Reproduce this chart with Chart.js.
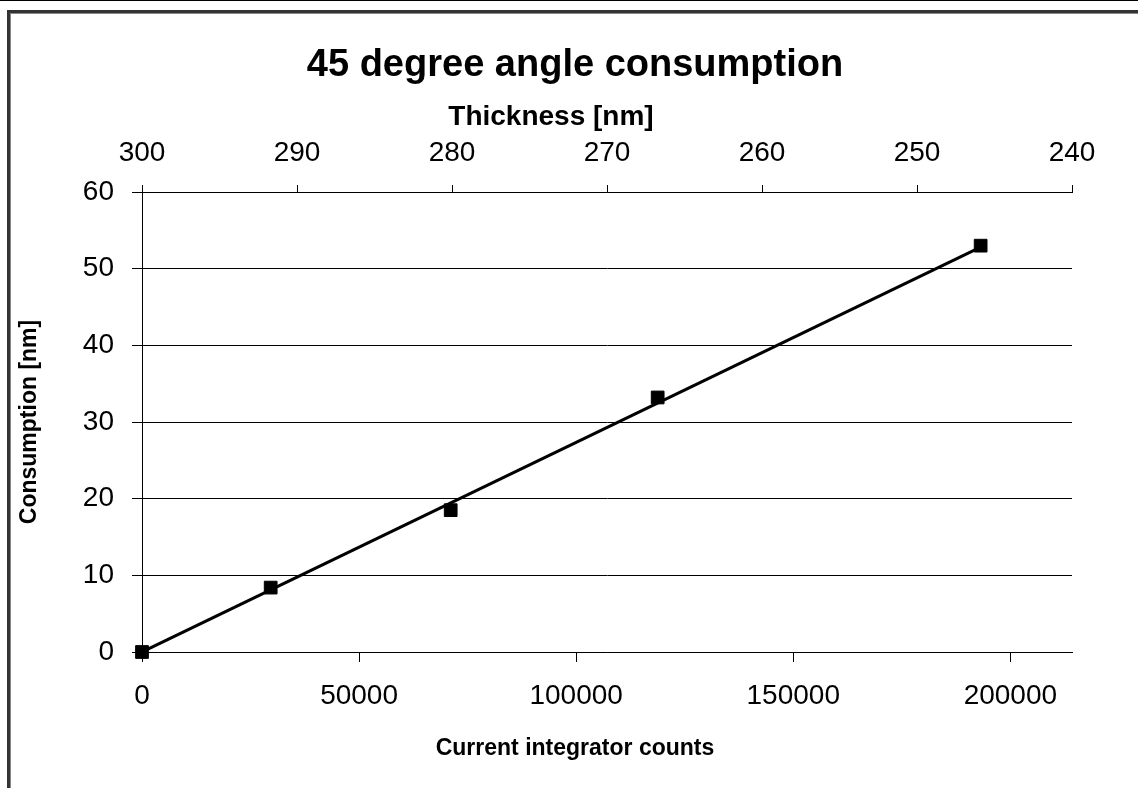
<!DOCTYPE html>
<html>
<head>
<meta charset="utf-8">
<script src="https://cdn.jsdelivr.net/npm/chart.js@4"></script>
<style>
    html, body { margin: 0; padding: 0; background: #fff; }
    #wrap { position: relative; width: 1138px; height: 788px; overflow: hidden; border-top: 1px solid #000; box-sizing: border-box; }
    #frame { position: absolute; left: 7px; top: 9px; width: 1200px; height: 900px; border-left: 3px solid #333; border-top: 3px solid #333; box-shadow: inset 1px 1px 0 #888; }
    #chart { position: absolute; left: 0; top: 0; }
</style>
</head>
<body>
<div id="wrap">
    <div id="frame"></div>
    <canvas id="chart" width="1138" height="788"></canvas>
</div>
<script>
// Data
const counts = [0, 29640, 71100, 118770, 193160];
const consumption = [0, 8.4, 18.5, 33.2, 53.0];
const trendCounts = [0, 193160];
const trendConsumption = [0, 52.8];
const countTicks = [0, 50000, 100000, 150000, 200000];
const thicknessTicks = [300, 290, 280, 270, 260, 250, 240];
const consumptionTicks = [0, 10, 20, 30, 40, 50, 60];

const FONT = "'Liberation Sans', Arial, sans-serif";

document.addEventListener('DOMContentLoaded', () => {
    const ctx = document.getElementById('chart');

    // titles placed like the Excel original
    const titles = {
        id: 'titles',
        afterDraw(chart) {
            const c = chart.ctx;
            c.save();
            c.fillStyle = '#000';
            c.textAlign = 'center';
            c.textBaseline = 'alphabetic';
            c.font = 'bold 38px ' + FONT;
            c.fillText('45 degree angle consumption', 575, 75);
            c.font = 'bold 28px ' + FONT;
            c.fillText('Thickness [nm]', 551, 124);
            c.font = 'bold 23px ' + FONT;
            c.fillText('Current integrator counts', 575, 754);
            c.translate(36, 421);
            c.rotate(-Math.PI / 2);
            c.fillText('Consumption [nm]', 0, 0);
            c.restore();
        }
    };

    const keepTicks = (list) => (scale) => {
        scale.ticks = list.map(v => ({ value: v }));
    };

    new Chart(ctx, {
        type: 'scatter',
        data: {
            datasets: [{
                label: 'Consumption',
                data: counts.map((x, i) => ({ x: x, y: consumption[i] })),
                pointStyle: 'rect',
                pointRadius: 9,
                pointBackgroundColor: '#000',
                pointBorderColor: '#000',
                pointBorderWidth: 1,
                showLine: false,
                clip: false,
                order: 1
            }, {
                label: 'Trend',
                data: trendCounts.map((x, i) => ({ x: x, y: trendConsumption[i] })),
                showLine: true,
                borderColor: '#000',
                borderWidth: 3,
                pointRadius: 0,
                order: 2
            }]
        },
        options: {
            responsive: false,
            animation: false,
            layout: { padding: { left: 0, right: 66, top: 0, bottom: 0 } },
            plugins: {
                legend: { display: false },
                tooltip: { enabled: false }
            },
            scales: {
                x: {
                    type: 'linear',
                    position: 'bottom',
                    min: 0,
                    max: 214200,
                    afterBuildTicks: keepTicks(countTicks),
                    afterFit: (s) => { s.height = 137; },
                    grid: { drawOnChartArea: false, color: '#000', tickLength: 10 },
                    border: { color: '#000', width: 1 },
                    ticks: { color: '#000', padding: 17, maxRotation: 0, autoSkip: false, font: { family: FONT, size: 28 }, callback: (v) => String(v) }
                },
                x2: {
                    type: 'linear',
                    position: 'top',
                    min: 240,
                    max: 300,
                    reverse: true,
                    afterBuildTicks: keepTicks(thicknessTicks),
                    afterFit: (s) => { s.height = 191; },
                    grid: { drawOnChartArea: false, color: '#000', tickLength: 7 },
                    border: { color: '#000', width: 1 },
                    ticks: { color: '#000', padding: 15, maxRotation: 0, autoSkip: false, font: { family: FONT, size: 28 } }
                },
                y: {
                    type: 'linear',
                    min: 0,
                    max: 60,
                    afterBuildTicks: keepTicks(consumptionTicks),
                    afterFit: (s) => { s.width = 142; },
                    grid: { color: '#000', tickLength: 10 },
                    border: { color: '#000', width: 1 },
                    ticks: { color: '#000', padding: 18, font: { family: FONT, size: 28 } }
                }
            }
        },
        plugins: [titles]
    });
});
</script>
</body>
</html>
